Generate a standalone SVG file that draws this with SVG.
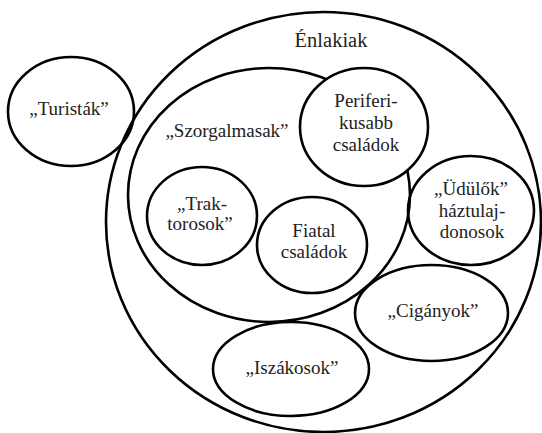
<svg xmlns="http://www.w3.org/2000/svg" width="542" height="433" viewBox="0 0 542 433">
<style>
.c{fill:none;stroke:#000;stroke-width:2.6}
.t{font-family:'Liberation Serif','Times New Roman',Tinos,'DejaVu Serif',serif;font-size:19px;fill:#222;text-anchor:middle}
.big{font-size:20.5px}
</style>
<rect width="542" height="433" fill="#fff"/>
<g id="enlakiak">
<ellipse class="c" cx="323.5" cy="222" rx="217.5" ry="210"/>
<text class="t big" x="331" y="47">Énlakiak</text>
</g>
<g id="turistak">
<ellipse class="c" cx="71" cy="111.5" rx="63" ry="54.5"/>
<text class="t" x="69" y="115">„Turisták”</text>
</g>
<g id="szorgalmasak">
<ellipse class="c" cx="269" cy="195" rx="141" ry="127"/>
<text class="t" x="227" y="137">„Szorgalmasak”</text>
</g>
<g id="periferikusabb">
<ellipse class="c" cx="364" cy="127" rx="64" ry="59" style="fill:#fff"/>
<text class="t" x="366" y="107">Periferi-</text>
<text class="t" x="366" y="129">kusabb</text>
<text class="t" x="366" y="151">családok</text>
</g>
<g id="traktorosok">
<ellipse class="c" cx="202" cy="216" rx="55" ry="49"/>
<text class="t" x="202" y="210">„Trak-</text>
<text class="t" x="200" y="230">torosok”</text>
</g>
<g id="fiatal">
<ellipse class="c" cx="312" cy="245" rx="55" ry="48"/>
<text class="t" x="314" y="237">Fiatal</text>
<text class="t" x="314" y="258">családok</text>
</g>
<g id="udulok">
<ellipse class="c" cx="471" cy="210.5" rx="63" ry="54.5"/>
<text class="t" x="471" y="195">„Üdülők”</text>
<text class="t" x="472" y="217">háztulaj-</text>
<text class="t" x="472" y="238">donosok</text>
</g>
<g id="ciganyok">
<ellipse class="c" cx="431.5" cy="313" rx="76.5" ry="48"/>
<text class="t" x="433" y="317">„Cigányok”</text>
</g>
<g id="iszakosok">
<ellipse class="c" cx="291" cy="369" rx="78" ry="47"/>
<text class="t" x="292" y="374">„Iszákosok”</text>
</g>
<g id="connectors"></g>
</svg>
